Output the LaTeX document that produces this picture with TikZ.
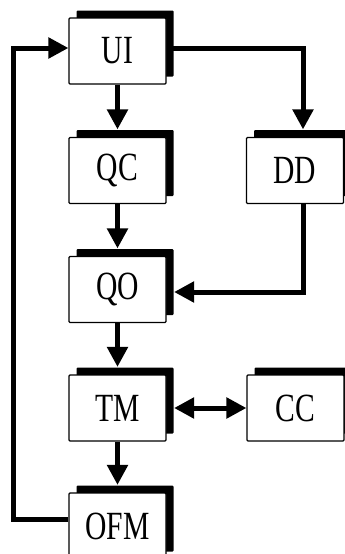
\documentclass[tikz,border=0pt]{standalone}
\usepackage{fontspec}
\setmainfont{Liberation Serif}
\usetikzlibrary{arrows.meta,shadows,calc}
\newcommand{\squeezed}[1]{\scalebox{0.74}[1]{#1}}
\begin{document}
\begin{tikzpicture}[x=1pt,y=1pt,
  blk/.style={draw=black,line width=1.1pt,fill=white,minimum width=97pt,minimum height=66pt,
    inner sep=0pt,rounded corners=1pt,font=\fontsize{40}{40}\selectfont,
    general shadow={fill=black,shadow xshift=7.5pt,shadow yshift=7.5pt}},
  conn/.style={line width=5pt,-{Triangle[width=20pt,length=20pt]}}]
\useasboundingbox (0,0) rectangle (345,-554);
\clip (0,0) rectangle (345,-554);
\node[blk] (ui)  at (117.5,-51)   {\squeezed{UI}};
\node[blk] (qc)  at (117.5,-170.5) {\squeezed{QC}};
\node[blk] (dd)  at (295,-170.5)  {\squeezed{DD}};
\node[blk] (qo)  at (117.5,-289.5) {\squeezed{QO}};
\node[blk] (tm)  at (117.5,-408)  {\squeezed{TM}};
\node[blk] (cc)  at (295.5,-408)  {\squeezed{CC}};
\node[blk] (ofm) at (117.5,-526)  {\squeezed{OFM}};
\coordinate (fbcorner) at (13,-519);
\draw[conn,shorten >=7.5pt] (ui.south) -- (qc.north);
\draw[conn,shorten >=7.5pt] (qc.south) -- (qo.north);
\draw[conn,shorten >=7.5pt] (qo.south) -- (tm.north);
\draw[conn,shorten >=7.5pt] (tm.south) -- (ofm.north);
\draw[conn,shorten >=7.5pt] ($(ui.east)+(0,3)$) -| ($(dd.north)+(8,0)$);
\draw[conn,shorten >=7.5pt] ($(dd.south)+(8,0)$) |- ($(qo.east)+(0,-2.5)$);
\draw[line width=5pt,{Triangle[width=20pt,length=20pt]}-{Triangle[width=20pt,length=20pt]},shorten <=7.5pt] (tm.east) -- (cc.west);
\draw[conn] ($(ofm.west)+(0,7)$) -- (fbcorner) |- ($(ui.west)+(0,3)$);
\end{tikzpicture}
\end{document}
